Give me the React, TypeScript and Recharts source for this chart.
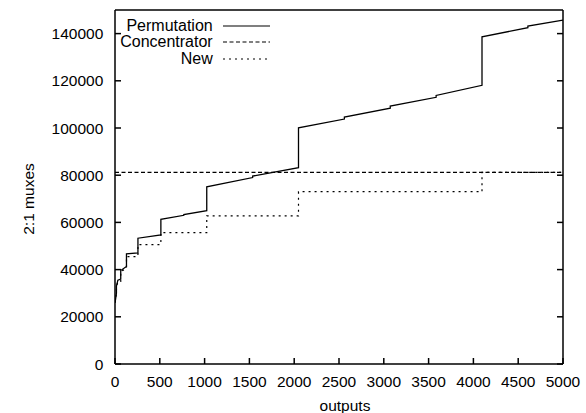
import React from 'react';
import { LineChart, Line, XAxis, YAxis, Legend, Label } from 'recharts';

// Permutation network cost (2:1 muxes) vs number of outputs
const permOutputs = [1, 16, 16, 32, 64, 64, 128, 128, 256, 256, 512, 512, 768, 768, 1024, 1024, 1536, 1536, 2048, 2048, 2560, 2560, 3072, 3072, 3584, 3584, 4096, 4096, 4608, 4608, 5000];
const permMuxes = [26000, 30000, 33000, 35500, 36000, 39600, 41300, 46700, 47100, 53300, 54700, 61300, 63000, 63300, 64950, 75070, 79000, 79600, 83200, 100100, 103800, 104600, 108400, 109300, 113000, 113800, 118100, 138650, 142500, 143200, 145700];

// Concentrator cost
const concOutputs = [0, 5000];
const concMuxes = [81200, 81200];

// New design cost
const newOutputs = [1, 16, 16, 32, 64, 64, 128, 128, 256, 256, 512, 512, 1024, 1024, 2048, 2048, 4096, 4096, 5000];
const newMuxes = [26000, 30000, 32500, 35000, 35000, 39300, 40300, 45500, 45500, 50600, 50600, 55700, 55700, 62800, 62800, 73000, 73000, 81200, 81200];

const xTicks = [0, 500, 1000, 1500, 2000, 2500, 3000, 3500, 4000, 4500, 5000];
const yTicks = [0, 20000, 40000, 60000, 80000, 100000, 120000, 140000];

const seriesNames = ['Permutation', 'Concentrator', 'New'];
const seriesDash = ['', '4 2.5', '2 4'];

const toData = (xs: number[], ys: number[]) => xs.map((x, i) => ({ outputs: x, muxes: ys[i] }));

const permData = toData(permOutputs, permMuxes);
const concData = toData(concOutputs, concMuxes);
const newData = toData(newOutputs, newMuxes);

const FONT = '"Liberation Sans", Arial, sans-serif';
const tickStyle = { fill: '#000', fontSize: 15.5, fontFamily: FONT };

const LegendContent = () => (
  <div style={{ fontFamily: FONT, fontSize: 16, color: '#000' }}>
    {seriesNames.map((name, i) => (
      <div key={name} style={{ display: 'flex', alignItems: 'center', height: 16.67 }}>
        <span style={{ width: 104.7, textAlign: 'right', whiteSpace: 'nowrap', lineHeight: '16.67px' }}>{name}</span>
        <svg width={57} height={10} style={{ display: 'block' }}>
          <line x1={10} x2={57} y1={5} y2={5} stroke="#000" strokeWidth={1.2} strokeDasharray={seriesDash[i] || undefined} />
        </svg>
      </div>
    ))}
  </div>
);

export default function App() {
  return (
    <div style={{ position: 'absolute', left: 8, top: 0 }}>
      <LineChart width={578} height={413} margin={{ top: 8, right: 21, left: 0, bottom: 5 }}>
        <XAxis
          xAxisId={0}
          dataKey="outputs"
          type="number"
          domain={[0, 5000]}
          ticks={xTicks}
          height={44}
          tickSize={-6}
          tickMargin={18}
          tick={tickStyle}
          tickLine={{ stroke: '#000', strokeWidth: 1.5 }}
          axisLine={{ stroke: '#000', strokeWidth: 1.5 }}
          allowDataOverflow
        >
          <Label
            content={(props: any) => {
              const vb = props.viewBox || {};
              return (
                <text x={vb.x + vb.width / 2 + 6} y={405} textAnchor="middle" dominantBaseline="central" fontSize={15.5} fontFamily={FONT} fill="#000">
                  outputs
                </text>
              );
            }}
          />
        </XAxis>
        <XAxis
          xAxisId="top"
          orientation="top"
          type="number"
          domain={[0, 5000]}
          ticks={xTicks}
          height={2}
          tickSize={-6}
          tickFormatter={() => ''}
          tickLine={{ stroke: '#000', strokeWidth: 1.5 }}
          axisLine={{ stroke: '#000', strokeWidth: 1.5 }}
          allowDataOverflow
        />
        <YAxis
          yAxisId={0}
          type="number"
          domain={[0, 150000]}
          ticks={yTicks}
          width={107}
          tickSize={-6}
          tickMargin={17.7}
          tick={tickStyle}
          tickLine={{ stroke: '#000', strokeWidth: 1.5 }}
          axisLine={{ stroke: '#000', strokeWidth: 1.5 }}
          allowDataOverflow
        >
          <Label
            content={() => {
              const cx = 20;
              const cy = 199;
              return (
                <text x={cx} y={cy} transform={`rotate(-90, ${cx}, ${cy})`} textAnchor="middle" dominantBaseline="central" fontSize={15.5} fontFamily={FONT} fill="#000">
                  2:1 muxes
                </text>
              );
            }}
          />
        </YAxis>
        <YAxis
          yAxisId="right"
          orientation="right"
          type="number"
          domain={[0, 150000]}
          ticks={yTicks}
          width={2}
          tickSize={-6}
          tickFormatter={() => ''}
          tickLine={{ stroke: '#000', strokeWidth: 1.5 }}
          axisLine={{ stroke: '#000', strokeWidth: 1.5 }}
          allowDataOverflow
        />
        <Legend
          layout="horizontal"
          verticalAlign="middle"
          align="center"
          content={<LegendContent />}
          wrapperStyle={{ position: 'absolute', left: 100, top: 17.5, width: 170, bottom: 'auto' }}
        />
        <Line
          name={seriesNames[0]}
          data={permData}
          dataKey="muxes"
          type="linear"
          stroke="#000"
          strokeWidth={1.3}
          dot={false}
          activeDot={false}
          isAnimationActive={false}
        />
        <Line
          name={seriesNames[1]}
          data={concData}
          dataKey="muxes"
          type="linear"
          stroke="#000"
          strokeWidth={1.2}
          strokeDasharray={seriesDash[1]}
          dot={false}
          activeDot={false}
          isAnimationActive={false}
        />
        <Line
          name={seriesNames[2]}
          data={newData}
          dataKey="muxes"
          type="linear"
          stroke="#000"
          strokeWidth={1.2}
          strokeDasharray={seriesDash[2]}
          dot={false}
          activeDot={false}
          isAnimationActive={false}
        />
      </LineChart>
    </div>
  );
}
